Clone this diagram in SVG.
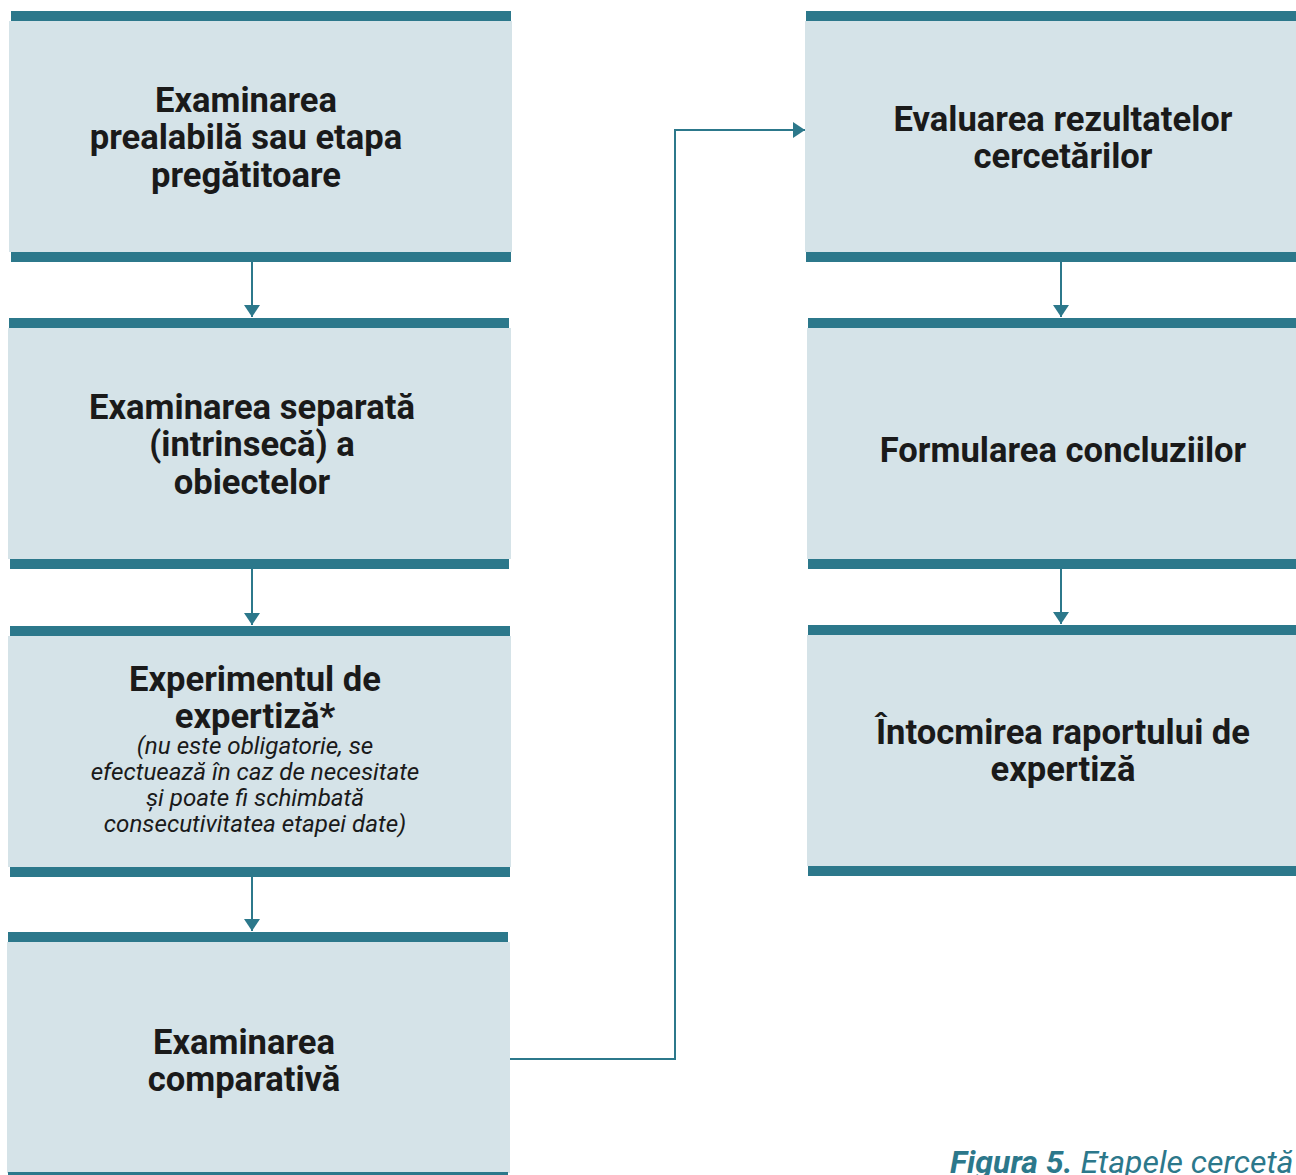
<svg xmlns="http://www.w3.org/2000/svg" width="1296" height="1175" viewBox="0 0 1296 1175">
<defs>
<style>
.fill{fill:#d5e3e8}
.bar{fill:#2c788b}
.t{font-family:Roboto,"Liberation Sans",sans-serif;font-weight:bold;font-size:34.6px;fill:#1a1a1a;text-anchor:middle}
.i{font-family:Roboto,"Liberation Sans",sans-serif;font-style:italic;font-size:24.2px;fill:#1a1a1a;text-anchor:middle}
.c{stroke:#2c788b;stroke-width:2;fill:none}
.cap{font-family:Roboto,"Liberation Sans",sans-serif;font-style:italic;font-size:32px;fill:#2c788b}
</style>
<marker id="ah" viewBox="0 0 12 16" refX="12" refY="8" markerWidth="12" markerHeight="16" markerUnits="userSpaceOnUse" orient="auto">
<path d="M0,0 L12,8 L0,16 Z" fill="#2c788b"/>
</marker>
</defs>
<rect width="1296" height="1175" fill="#ffffff"/>
<g id="connectors">
<path class="c" d="M252,262 V317" marker-end="url(#ah)"/>
<path class="c" d="M252,569 V625" marker-end="url(#ah)"/>
<path class="c" d="M252,877 V931" marker-end="url(#ah)"/>
<path class="c" d="M510,1059 H675 V130 H805" marker-end="url(#ah)"/>
<path class="c" d="M1061,262 V317" marker-end="url(#ah)"/>
<path class="c" d="M1061,569 V624" marker-end="url(#ah)"/>
</g>
<g id="node1">
<rect class="fill" x="9" y="21" width="503" height="231"/>
<rect class="bar" x="11" y="11" width="500" height="10"/>
<rect class="bar" x="11" y="252" width="500" height="10"/>
<text class="t" x="246" y="112">Examinarea</text>
<text class="t" x="246" y="149">prealabilă sau etapa</text>
<text class="t" x="246" y="187">pregătitoare</text>
</g>
<g id="node2">
<rect class="fill" x="8" y="328" width="503" height="231"/>
<rect class="bar" x="9" y="318" width="500" height="10"/>
<rect class="bar" x="10" y="559" width="499" height="10"/>
<text class="t" x="252" y="419">Examinarea separată</text>
<text class="t" x="252" y="456">(intrinsecă) a</text>
<text class="t" x="252" y="494">obiectelor</text>
</g>
<g id="node3">
<rect class="fill" x="8" y="636" width="503" height="231"/>
<rect class="bar" x="10" y="626" width="500" height="10"/>
<rect class="bar" x="10" y="867" width="500" height="10"/>
<text class="t" x="255" y="691">Experimentul de</text>
<text class="t" x="255" y="728">expertiză*</text>
<text class="i" x="255" y="754">(nu este obligatorie, se</text>
<text class="i" x="255" y="780">efectuează în caz de necesitate</text>
<text class="i" x="255" y="806">și poate fi schimbată</text>
<text class="i" x="255" y="832">consecutivitatea etapei date)</text>
</g>
<g id="node4">
<rect class="fill" x="7" y="942" width="503" height="231"/>
<rect class="bar" x="8" y="932" width="500" height="10"/>
<rect class="bar" x="8" y="1172" width="500" height="10"/>
<text class="t" x="244" y="1054">Examinarea</text>
<text class="t" x="244" y="1091">comparativă</text>
</g>
<g id="node5">
<rect class="fill" x="805" y="21" width="491" height="231"/>
<rect class="bar" x="806" y="11" width="490" height="10"/>
<rect class="bar" x="806" y="252" width="490" height="10"/>
<text class="t" x="1063" y="131">Evaluarea rezultatelor</text>
<text class="t" x="1063" y="168">cercetărilor</text>
</g>
<g id="node6">
<rect class="fill" x="807" y="328" width="489" height="231"/>
<rect class="bar" x="808" y="318" width="488" height="10"/>
<rect class="bar" x="808" y="559" width="488" height="10"/>
<text class="t" x="1063" y="462">Formularea concluziilor</text>
</g>
<g id="node7">
<rect class="fill" x="807" y="635" width="489" height="231"/>
<rect class="bar" x="808" y="625" width="488" height="10"/>
<rect class="bar" x="808" y="866" width="488" height="10"/>
<text class="t" x="1063" y="744">Întocmirea raportului de</text>
<text class="t" x="1063" y="781">expertiză</text>
</g>
<text class="cap" x="950" y="1173"><tspan font-weight="bold">Figura 5.</tspan> Etapele cercetă</text>
</svg>
